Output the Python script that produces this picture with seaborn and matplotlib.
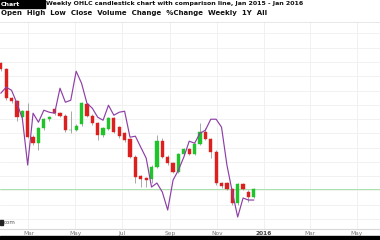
import matplotlib
matplotlib.use("Agg")
import matplotlib.pyplot as plt
from matplotlib.patches import Rectangle
import numpy as np
import pandas as pd
import seaborn as sns

# ---------------- data (weekly candles) ----------------
start_date = "2015-01-24"
opens = [209, 205, 184.5, 182.5, 171.5, 176, 157.5, 153, 163.5, 170,
         177, 174, 172.5, 162, 162.5, 166.5, 180.5, 172.5, 167, 158.5,
         163, 170.5, 164.5, 160, 156, 143.5, 130, 128.5, 128, 136.5,
         154.5, 143.5, 139, 133, 145.5, 149, 145.5, 152.5, 161, 156,
         147, 125, 125, 121, 111, 124.5, 119, 115.5]
closes = [205, 184.5, 182.5, 171.5, 175.5, 157.5, 153, 163.5, 170, 171.5,
          174, 172.5, 162, 162.6, 165.5, 181, 172.5, 167, 158.5, 163.5,
          170.5, 161, 158, 155, 143.5, 129.5, 128, 127.5, 136.5, 154.5,
          143.5, 139, 133, 145.5, 149, 145.5, 152.5, 161, 156, 147,
          125, 123, 121, 111, 124.5, 121, 115.5, 121]
highs = [210, 206, 185.5, 183.5, 176.5, 181, 158.5, 164.5, 171, 172.5,
         178, 175, 173.5, 176, 166.5, 182, 181.5, 173.5, 168, 164.5,
         171.5, 171.5, 165.5, 161, 157, 144.5, 131, 129.5, 137.5, 158.5,
         157, 144.5, 140, 146.5, 150, 150, 153.5, 167, 163.5, 157,
         148, 126, 126, 122, 125.5, 125.5, 120, 122]
lows = [204, 183.5, 181.5, 168.5, 170.5, 156.5, 152, 148, 162.5, 169,
        173, 171.5, 161, 160, 161.5, 165.5, 171.5, 166, 155, 157.5,
        162, 160, 157, 154, 142.5, 125, 122.5, 122.5, 125, 135.5,
        142.5, 138, 132, 132, 144.5, 144.5, 144.5, 151.5, 155, 142.5,
        124, 122, 120, 110, 109.5, 120, 112, 114.5]
line_values = [188.1, 192.3, 190.2, 181.1, 170.6, 137.8, 174.1, 167.8, 176.2, 174.8,
               174.1, 191.6, 181.8, 183.2, 203.5, 195.1, 181.1, 177.6, 171.3, 169.2,
               179.7, 172.7, 174.8, 175.5, 157.3, 158.0, 150.3, 142.7, 122.4, 125.2,
               118.9, 106.3, 127.3, 134.3, 143.4, 154.5, 153.1, 160.1, 162.2, 169.9,
               169.9, 164.3, 137.8, 118.9, 101.4, 114.7, 113.3, 113.3]
tick_dates = ["2015-03-01", "2015-05-01", "2015-07-01", "2015-09-01",
              "2015-11-01", "2016-01-01", "2016-03-01", "2016-05-01"]
tick_labels = ["Mar", "May", "Jul", "Sep", "Nov", "2016", "Mar", "May"]
header_line1 = "Weekly OHLC candlestick chart with comparison line, Jan 2015 - Jan 2016"
header_line2 = "Open  High  Low  Close  Volume  Change  %Change  Weekly  1Y  All"
watermark = "com"

dates = pd.date_range(start_date, periods=len(opens), freq="7D")
df = pd.DataFrame({"date": dates, "open": opens, "close": closes,
                   "high": highs, "low": lows, "line": line_values})

# ---------------- styling ----------------
sns.set_theme(style="whitegrid")
plt.rcParams["font.family"] = ["DejaVu Sans"]

RED = "#dc1f1f"
GREEN = "#1fc42a"
PURPLE = "#8e3fa6"

fig = plt.figure(figsize=(3.8, 2.4), dpi=100)
ax = fig.add_axes([0, 11 / 240, 1, (229 - 22) / 240])
ax.set_facecolor("white")

up = df["close"] >= df["open"]
colors = np.where(up, GREEN, RED)

# wicks
ax.vlines(df["date"], df["low"], df["high"], colors="#9a9a9a", linewidth=0.6, zorder=2)
# bodies
bottoms = np.minimum(df["open"], df["close"])
heights = np.maximum(np.abs(df["close"] - df["open"]), 0.6)
ax.bar(df["date"], heights, bottom=bottoms, width=4.3, color=colors,
       edgecolor=colors, linewidth=0.3, zorder=3)

# comparison line
sns.lineplot(data=df, x="date", y="line", ax=ax, color=PURPLE, linewidth=0.85,
             zorder=4, legend=False)

# last price line
ax.axhline(df["close"].iloc[-1], color="#a6e3a9", linewidth=0.7, zorder=1)

ax.set_xlim(pd.Timestamp("2015-01-23"), pd.Timestamp("2016-05-31"))
ax.set_ylim(93, 238)
ax.set_yticks(np.arange(100, 240, 10))
ax.set_yticklabels([])
ax.tick_params(axis="y", length=0)
ax.set_xticks(pd.to_datetime(tick_dates))
ax.set_xticklabels(tick_labels, fontsize=4.2, color="#777777")
for lbl in ax.get_xticklabels():
    if lbl.get_text() == "2016":
        lbl.set_color("#444444")
        lbl.set_fontweight("bold")
ax.tick_params(axis="x", length=0, pad=1.5)
ax.grid(True, color="#efefef", linewidth=0.6)
ax.set_xlabel("")
ax.set_ylabel("")
for s in ["left", "right"]:
    ax.spines[s].set_visible(False)
ax.spines["bottom"].set_color("#d9d9d9")
ax.spines["bottom"].set_linewidth(0.8)
ax.spines["top"].set_color("#dddddd")
ax.spines["top"].set_linewidth(0.5)

# watermark
fig.patches.append(Rectangle((0, 15 / 240), 3 / 380, 5 / 240, transform=fig.transFigure,
                             color="#222222", zorder=5))
fig.text(4 / 380, 17.5 / 240, watermark, fontsize=4, color="#555555", va="center", ha="left")

# header
fig.patches.append(Rectangle((0, 232 / 240), 45 / 380, 8 / 240, transform=fig.transFigure,
                             color="black", zorder=5))
fig.text(1 / 380, 236 / 240, "Chart", fontsize=4.5, color="white", va="center",
         ha="left", fontweight="bold", zorder=6)
fig.text(46 / 380, 236 / 240, header_line1, fontsize=4.5, color="#111111", va="center",
         ha="left", fontweight="bold")
fig.text(1 / 380, 227 / 240, header_line2, fontsize=5, color="#111111", va="center",
         ha="left", fontweight="bold")

# bottom strip
fig.patches.append(Rectangle((0, 0), 1, 4 / 240, transform=fig.transFigure,
                             color="black", zorder=5))

fig.savefig("out.png", dpi=100, facecolor="white")
